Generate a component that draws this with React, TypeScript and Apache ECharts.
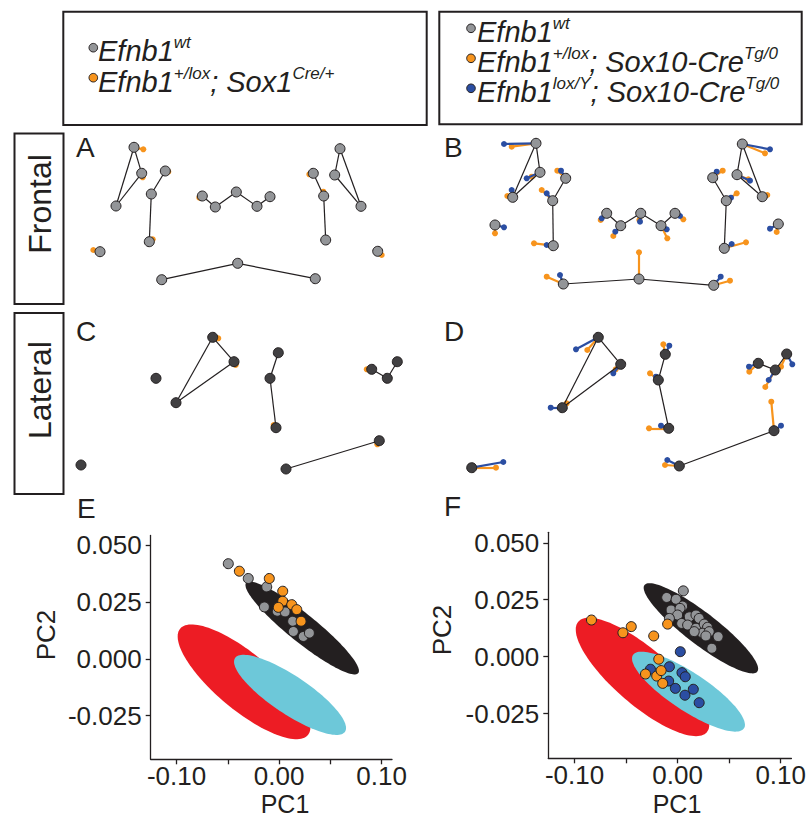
import React, { useEffect, useRef } from 'react';
import * as echarts from 'echarts';

const INK = '#231f20';
const GRAY = '#939598';
const ORANGE = '#f7941d';
const BLUE = '#2b4ea2';
const RED = '#ed1c24';
const CYAN = '#6dc8d9';
const DARK = '#414042';
const FONT = '"Liberation Sans", Arial, Helvetica, sans-serif';

// ---------- Landmark configurations (panel-local units) ----------
const frontalLinks = [[0,1],[0,2],[1,2],[3,4],[4,5],[7,8],[8,9],[9,10],[10,11],[13,12],[12,14],[15,16],[15,17],[16,17],[18,19],[19,20]];
const lateralLinksC = [[2,3],[3,4],[4,2],[5,6],[6,7],[8,9],[10,11],[11,12]];
const lateralLinksD = [[1,2],[2,3],[3,1],[4,5],[5,6],[7,8],[9,10],[10,11]];

const aWildtype = [[74,17.3],[81.7,43.3],[56,76],[105.3,41],[91.3,64],[89.3,111.7],[40,121.7],[142.3,66],[155.3,77],[176.3,62],[197,76.3],[210,66.7],[177.7,133.3],[101.7,149.7],[255.3,148.7],[280,18.7],[274.7,45],[301,76.3],[253.3,43.3],[263.7,66],[265.7,110],[317.7,121.3]];
const aSox1Cre = [[83.3,19.3],[82.7,47.3],[56,76],[108.3,41.7],[91.3,64],[92.7,109.3],[33.3,120],[139.3,67.7],[155.3,77],[176.3,62],[197,76.3],[210,66.7],[177.7,133.3],[101.7,149.7],[255.3,148.7],[280,18.7],[274.7,45],[301,76.3],[249.3,44.3],[263.3,61.7],[265.7,110],[321.7,125]];

const bWildtype = [[106,13.3],[110,42.3],[82.7,67.3],[135.7,48.3],[122.7,70.7],[123.3,115.7],[65,95],[176.7,83.3],[190.7,95.7],[210.7,83.3],[231,95.7],[245,83.3],[209,149],[133.3,154],[283.7,155.3],[312.3,14],[307,44.7],[332.3,66.7],[282.7,47.7],[296.3,70.7],[294.3,118.3],[348.3,94]];
const bHet = [[81.7,16.7],[101.7,46.7],[77.3,66],[127.3,40.7],[111.7,60],[104,113.3],[65,103.3],[170.7,90],[183.3,106],[209.3,90],[237.3,108.3],[253.3,89.3],[209,122.3],[116.7,146.7],[300,150.7],[335,23.3],[318.3,49.3],[337.3,65],[292.7,40.7],[306.7,63.3],[316,112.3],[346.7,102]];
const bHemi = [[74,14],[96.7,48.3],[81.7,60],[131,40.7],[116.7,63.3],[116.7,115],[74,97.3],[171.7,88.3],[185.3,101.7],[210,91.7],[236.7,99.3],[250,86],[208.3,148.3],[130,145],[290.7,146.7],[340,19.3],[320,50.7],[332.3,66.7],[286.7,41.7],[301,67.7],[301.7,114],[340,98.7]];

const cWildtype = [[21,155],[96,68.3],[116,92.7],[152.7,27.3],[174,51.7],[218.3,42.7],[210,68.3],[216,117.7],[226,159],[319.3,130.7],[311.7,59.3],[327.3,68.3],[337.3,51.7]];
const cSox1Cre = [[21,155],[96,68.3],[116,92.7],[158.3,28.3],[175.7,55],[218.3,42.7],[210,68.3],[213.7,115],[226,159],[317.3,134.3],[306.7,59.3],[327.3,68.3],[337.3,51.7]];

const dWildtype = [[41.7,157.7],[132.3,97.7],[168.3,27.3],[190.7,54.3],[235.3,44.3],[228.3,70],[238.7,118.3],[249.3,156],[344,120.7],[328.3,53.3],[345.3,60],[356.7,44]];
const dHet = [[66,157.7],[136.7,93.3],[157.3,40],[185.7,59.3],[233.3,34.3],[220,63.3],[219,118.3],[235,155],[341.3,91.7],[319.3,61.7],[335.3,77],[351,56.7]];
const dHemi = [[73.3,152],[120.7,97.7],[146,39.3],[183.3,63.3],[239.3,35.7],[226,66.7],[231,115.7],[237.3,150],[351,115.7],[319,56.7],[338.7,70],[362.3,54.3]];

// ---------- PCA (PC1, PC2) ----------
const eWildtype = [[-0.0495,0.0418],[-0.0300,0.0353],[-0.0120,0.0316],[-0.0143,0.0228],[-0.0017,0.0209],[0.0059,0.0206],[0.0133,0.0165],[0.0140,0.0120],[0.0237,0.0098],[0.0296,0.0113]];
const eSox1Cre = [[-0.0387,0.0385],[-0.0095,0.0353],[0.0036,0.0297],[0.0036,0.0253],[-0.0007,0.0226],[0.0124,0.0238],[0.0173,0.0216],[0.0215,0.0165]];
const fWildtype = [[0.0055,0.0289],[-0.0106,0.0260],[-0.0015,0.0252],[0.0048,0.0222],[-0.0064,0.0205],[0.0023,0.0212],[0.0000,0.0183],[-0.0080,0.0168],[0.0039,0.0146],[0.0113,0.0175],[0.0178,0.0183],[0.0209,0.0168],[0.0097,0.0139],[0.0178,0.0125],[0.0258,0.0143],[0.0290,0.0129],[0.0241,0.0103],[0.0306,0.0110],[0.0393,0.0088],[0.0332,0.0037],[0.0274,0.0091],[0.0161,0.0110]];
const fHet = [[-0.0836,0.0161],[-0.0531,0.0105],[-0.0450,0.0132],[-0.0232,0.0091],[-0.0097,0.0143],[-0.0183,-0.0011],[-0.0312,-0.0076],[-0.0203,-0.0085],[-0.0160,-0.0061],[-0.0145,-0.0117]];
const fHemi = [[0.0026,0.0022],[-0.0264,-0.0055],[-0.0080,-0.0044],[0.0042,-0.0070],[0.0074,-0.0088],[-0.0087,-0.0107],[-0.0022,-0.0139],[0.0071,-0.0169],[0.0152,-0.0143],[0.0209,-0.0202]];

// ellipses: centre (x, y), conjugate half-axis vectors u and v (data units)
const eEllipses = [
  { color: INK, p: [0.0226, 0.01354, 0.0547, -0.01984, -0.00854, -0.00482] },
  { color: RED, p: [-0.03415, -0.01014, 0.06234, -0.02337, -0.01746, -0.00952] },
  { color: CYAN, p: [0.01073, -0.01587, 0.05366, -0.01618, -0.01024, -0.00697] },
];
const fEllipses = [
  { color: INK, p: [0.02259, 0.01246, 0.05473, -0.01899, -0.00936, -0.00557] },
  { color: RED, p: [-0.03407, -0.0089, 0.06236, -0.02425, -0.01757, -0.00934] },
  { color: CYAN, p: [0.01052, -0.01535, 0.05386, -0.0161, -0.01004, -0.00697] },
];

const pcTicks = [-0.1, -0.05, 0, 0.05, 0.1];
const pcLabels = [-0.1, 0, 0.1];
const pc2Ticks = [-0.025, 0, 0.025, 0.05];

function landmarkSeries(
  ax: number,
  base: number[][],
  links: number[][],
  baseColor: string,
  offsets: { pts: number[][]; color: string }[]
) {
  const s: any[] = [];
  offsets.forEach((o, k) => {
    s.push({
      type: 'lines', coordinateSystem: 'cartesian2d', xAxisIndex: ax, yAxisIndex: ax, silent: true, z: 2 + k,
      lineStyle: { color: o.color, width: 2.2, opacity: 1 },
      data: base.map((p, i) => ({ coords: [p, o.pts[i]] })),
    });
    s.push({
      type: 'scatter', xAxisIndex: ax, yAxisIndex: ax, silent: true, z: 2 + k, symbol: 'circle', symbolSize: 6,
      itemStyle: { color: o.color, opacity: 1 }, data: o.pts,
    });
  });
  s.push({
    type: 'lines', coordinateSystem: 'cartesian2d', xAxisIndex: ax, yAxisIndex: ax, silent: true, z: 5,
    lineStyle: { color: INK, width: 1.2, opacity: 1 },
    data: links.map(([i, j]) => ({ coords: [base[i], base[j]] })),
  });
  s.push({
    type: 'scatter', xAxisIndex: ax, yAxisIndex: ax, silent: true, z: 6, symbol: 'circle', symbolSize: 10,
    itemStyle: { color: baseColor, borderColor: INK, borderWidth: 1, opacity: 1 }, data: base,
  });
  return s;
}

function ellipseSeries(ax: number, ells: { color: string; p: number[] }[]) {
  return {
    type: 'custom', xAxisIndex: ax, yAxisIndex: ax, silent: true, z: 2,
    encode: { x: 0, y: 1 },
    data: ells.map((e) => ({ value: e.p, itemStyle: { color: e.color } })),
    renderItem: (params: any, api: any) => {
      const cx = api.value(0), cy = api.value(1), ux = api.value(2), uy = api.value(3), vx = api.value(4), vy = api.value(5);
      const pts: number[][] = [];
      for (let k = 0; k < 120; k++) {
        const t = (2 * Math.PI * k) / 120;
        pts.push(api.coord([cx + ux * Math.cos(t) + vx * Math.sin(t), cy + uy * Math.cos(t) + vy * Math.sin(t)]));
      }
      return { type: 'polygon', shape: { points: pts }, style: { fill: api.visual('color') } };
    },
  };
}

function pcaScatter(ax: number, data: number[][], color: string, z: number) {
  return {
    type: 'scatter', xAxisIndex: ax, yAxisIndex: ax, silent: true, z, symbol: 'circle', symbolSize: 10,
    itemStyle: { color, borderColor: INK, borderWidth: 1, opacity: 1 }, data,
  };
}

const hiddenAxis = (max: number, inverse = false) => ({ type: 'value', show: false, min: 0, max, inverse });

function pcX(grid: number, min: number, max: number) {
  return {
    type: 'value', gridIndex: grid, min, max,
    axisLine: { show: true, onZero: false, lineStyle: { color: INK, width: 1.3 } },
    axisTick: { show: true, length: 5, customValues: pcTicks, lineStyle: { color: INK, width: 1.3 } },
    axisLabel: { customValues: pcLabels, color: INK, fontSize: 26, fontWeight: 'normal', fontFamily: FONT, margin: 4, formatter: (v: number) => v.toFixed(2) },
    splitLine: { show: false },
  };
}
function pcY(grid: number, min: number, max: number) {
  return {
    type: 'value', gridIndex: grid, min, max,
    axisLine: { show: true, onZero: false, lineStyle: { color: INK, width: 1.3 } },
    axisTick: { show: true, length: 5, customValues: pc2Ticks, lineStyle: { color: INK, width: 1.3 } },
    axisLabel: { customValues: pc2Ticks, color: INK, fontSize: 26, fontWeight: 'normal', fontFamily: FONT, margin: 9, formatter: (v: number) => v.toFixed(3) },
    splitLine: { show: false },
  };
}

const rich = {
  m: { fontSize: 29, fontStyle: 'italic', fontWeight: 'normal', fontFamily: FONT, fill: INK, lineHeight: 34 },
  s: { fontSize: 17, fontStyle: 'italic', fontWeight: 'normal', fontFamily: FONT, fill: INK, lineHeight: 18, verticalAlign: 'top' },
};

function legendLine(x: number, top: number, text: string) {
  return {
    type: 'text', x, y: top, silent: true,
    style: { text, rich, align: 'left', verticalAlign: 'top', fill: INK, fontWeight: 'normal', fontStyle: 'italic', fontSize: 29, fontFamily: FONT },
  };
}
function dot(x: number, y: number, color: string) {
  return { type: 'circle', silent: true, shape: { cx: x, cy: y, r: 4.3 }, style: { fill: color, stroke: INK, lineWidth: 1 } };
}
function label(x: number, y: number, text: string, size: number) {
  return {
    type: 'text', x, y, silent: true,
    style: { text, fontSize: size, fontWeight: 'normal', fontFamily: FONT, fill: INK, align: 'left', verticalAlign: 'middle' },
  };
}
function centered(x: number, y: number, text: string, size: number, rotation = 0) {
  return {
    type: 'text', x, y, rotation, silent: true,
    style: { text, fontSize: size, fontWeight: 'normal', fontFamily: FONT, fill: INK, align: 'center', verticalAlign: 'middle' },
  };
}
function box(x: number, y: number, w: number, h: number) {
  return { type: 'rect', silent: true, shape: { x, y, width: w, height: h }, style: { fill: 'none', stroke: INK, lineWidth: 2 } };
}

export default function App() {
  const ref = useRef<HTMLDivElement>(null);
  useEffect(() => {
    if (!ref.current) return;
    const chart = echarts.init(ref.current, undefined, { renderer: 'svg' });
    const option: any = {
      animation: false,
      backgroundColor: '#ffffff',
      grid: [
        { left: 60, top: 130, width: 370, height: 170 },
        { left: 430, top: 130, width: 370, height: 170 },
        { left: 60, top: 310, width: 370, height: 170 },
        { left: 430, top: 310, width: 370, height: 170 },
        { left: 150.7, top: 535.5, width: 241.3, height: 223.8 },
        { left: 548.3, top: 532.3, width: 244.4, height: 226 },
      ],
      xAxis: [
        { ...hiddenAxis(370), gridIndex: 0 },
        { ...hiddenAxis(370), gridIndex: 1 },
        { ...hiddenAxis(370), gridIndex: 2 },
        { ...hiddenAxis(370), gridIndex: 3 },
        pcX(4, -0.1252, 0.1102),
        pcX(5, -0.1255, 0.1104),
      ],
      yAxis: [
        { ...hiddenAxis(170, true), gridIndex: 0 },
        { ...hiddenAxis(170, true), gridIndex: 1 },
        { ...hiddenAxis(170, true), gridIndex: 2 },
        { ...hiddenAxis(170, true), gridIndex: 3 },
        pcY(4, -0.0442, 0.0542),
        pcY(5, -0.0446, 0.0546),
      ],
      series: [
        ...landmarkSeries(0, aWildtype, frontalLinks, GRAY, [{ pts: aSox1Cre, color: ORANGE }]),
        ...landmarkSeries(1, bWildtype, frontalLinks, GRAY, [{ pts: bHet, color: ORANGE }, { pts: bHemi, color: BLUE }]),
        ...landmarkSeries(2, cWildtype, lateralLinksC, DARK, [{ pts: cSox1Cre, color: ORANGE }]),
        ...landmarkSeries(3, dWildtype, lateralLinksD, DARK, [{ pts: dHet, color: ORANGE }, { pts: dHemi, color: BLUE }]),
        ellipseSeries(4, eEllipses),
        pcaScatter(4, eWildtype, GRAY, 4),
        pcaScatter(4, eSox1Cre, ORANGE, 5),
        ellipseSeries(5, fEllipses),
        pcaScatter(5, fWildtype, GRAY, 4),
        pcaScatter(5, fHemi, BLUE, 5),
        pcaScatter(5, fHet, ORANGE, 6),
      ],
      graphic: [
        box(63.3, 11.7, 363.4, 113.3),
        box(439.3, 11.7, 362.4, 112.6),
        dot(93.3, 47.7, GRAY),
        legendLine(98, 34, '{m|Efnb1}{s|wt}'),
        dot(93.3, 77.7, ORANGE),
        legendLine(98, 65, '{m|Efnb1}{s|+/lox}{m|; Sox1}{s|Cre/+}'),
        dot(471, 28.3, GRAY),
        legendLine(477, 15, '{m|Efnb1}{s|wt}'),
        dot(471, 58.3, ORANGE),
        legendLine(477, 45, '{m|Efnb1}{s|+/lox}{m|; Sox10-Cre}{s|Tg/0}'),
        dot(471, 88.3, BLUE),
        legendLine(477, 74.5, '{m|Efnb1}{s|lox/Y}{m|; Sox10-Cre}{s|Tg/0}'),
        box(14.5, 133.5, 49, 170.5),
        box(14.5, 313, 49, 181),
        centered(40, 204, 'Frontal', 32, Math.PI / 2),
        centered(40, 390, 'Lateral', 32, Math.PI / 2),
        label(76, 147, 'A', 28),
        label(444, 147.5, 'B', 28),
        label(76, 331, 'C', 28),
        label(444, 331, 'D', 28),
        label(77, 508, 'E', 28),
        label(444, 506, 'F', 28),
        centered(285, 804, 'PC1', 25),
        centered(677, 804, 'PC1', 25),
        centered(46, 635, 'PC2', 26, Math.PI / 2),
        centered(442, 630, 'PC2', 26, Math.PI / 2),
      ],
    };
    chart.setOption(option);
    return () => chart.dispose();
  }, []);
  return <div ref={ref} style={{ position: 'absolute', left: 0, top: 0, width: 809, height: 819 }} />;
}
